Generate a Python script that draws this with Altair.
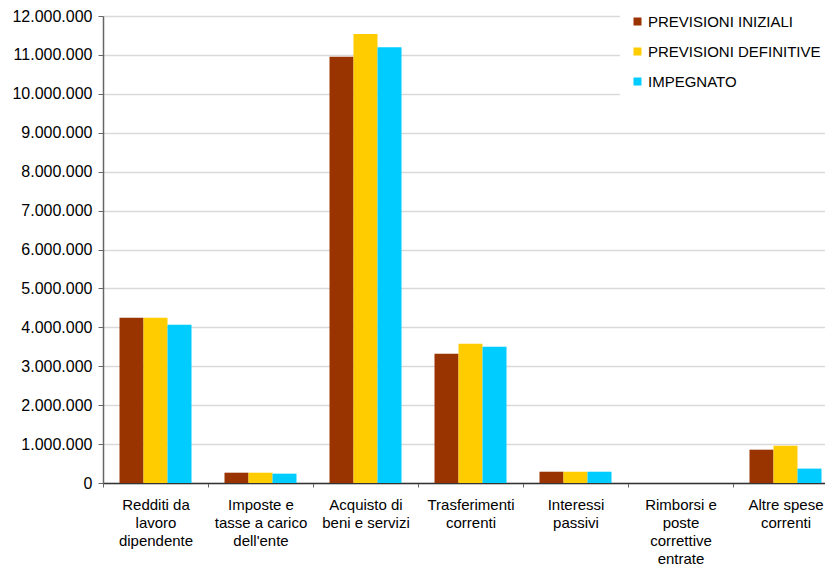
import altair as alt
import pandas as pd

categories = [
    "Redditi da\nlavoro\ndipendente",
    "Imposte e\ntasse a carico\ndell'ente",
    "Acquisto di\nbeni e servizi",
    "Trasferimenti\ncorrenti",
    "Interessi\npassivi",
    "Rimborsi e\nposte\ncorrettive\nentrate",
    "Altre spese\ncorrenti",
]
series = ["PREVISIONI INIZIALI", "PREVISIONI DEFINITIVE", "IMPEGNATO"]
colors = ["#993300", "#FFCC00", "#00CCFF"]

previsioni_iniziali = [4245000, 265000, 10950000, 3320000, 290000, 0, 856000]
previsioni_definitive = [4245000, 265000, 11540000, 3580000, 290000, 0, 960000]
impegnato = [4065000, 240000, 11200000, 3500000, 290000, 0, 370000]

y_ticks = list(range(0, 12000001, 1000000))

rows = []
for s, vals in zip(series, [previsioni_iniziali, previsioni_definitive, impegnato]):
    for c, v in zip(categories, vals):
        rows.append({"categoria": c, "serie": s, "valore": v})
df = pd.DataFrame(rows)

FONT = "Liberation Sans Narrow, Liberation Sans"

chart = alt.Chart(df).mark_bar().encode(
    x=alt.X(
        "categoria:N",
        sort=categories,
        scale=alt.Scale(range=[0, 735], paddingInner=0, paddingOuter=0),
        axis=alt.Axis(
            title=None,
            labelAngle=0,
            labelExpr="split(datum.label, '\\n')",
            tickBand="extent",
            labelFontSize=15,
            labelLineHeight=18,
            labelPadding=10,
            labelColor="#000000",
            labelFont=FONT,
            tickSize=4,
            tickColor="#666666",
            domainColor="#333333",
            domainWidth=1.5,
            grid=False,
            labelBaseline="top",
        ),
    ),
    xOffset=alt.XOffset(
        "serie:N",
        sort=series,
        scale=alt.Scale(paddingInner=0, paddingOuter=0.6875),
    ),
    y=alt.Y(
        "valore:Q",
        scale=alt.Scale(domain=[0, 12000000], nice=False),
        axis=alt.Axis(
            title=None,
            values=y_ticks,
            labelExpr="replace(format(datum.value, ','), regexp(',', 'g'), '.')",
            labelFontSize=16,
            labelFont=FONT,
            labelColor="#000000",
            labelPadding=6,
            tickSize=5,
            tickColor="#666666",
            domainColor="#666666",
            domainWidth=1.5,
            gridColor="#d9d9d9",
            gridWidth=1.5,
        ),
    ),
    color=alt.Color(
        "serie:N",
        sort=series,
        scale=alt.Scale(domain=series, range=colors),
        legend=alt.Legend(
            title=None,
            orient="none",
            legendX=517,
            legendY=-12,
            fillColor="#ffffff",
            padding=10,
            symbolType="square",
            symbolSize=64,
            symbolStrokeWidth=0,
            labelFontSize=15,
            labelFont=FONT,
            labelColor="#000000",
            labelOffset=3,
            rowPadding=14,
            labelLimit=300,
        ),
    ),
).properties(
    width=722,
    height=467,
    autosize=alt.AutoSizeParams(type="none"),
    padding={"left": 103, "top": 16, "right": 0, "bottom": 83},
).configure_view(stroke=None).configure(background="#ffffff")

chart.save("out.html", embed_options={"renderer": "svg", "actions": False})
